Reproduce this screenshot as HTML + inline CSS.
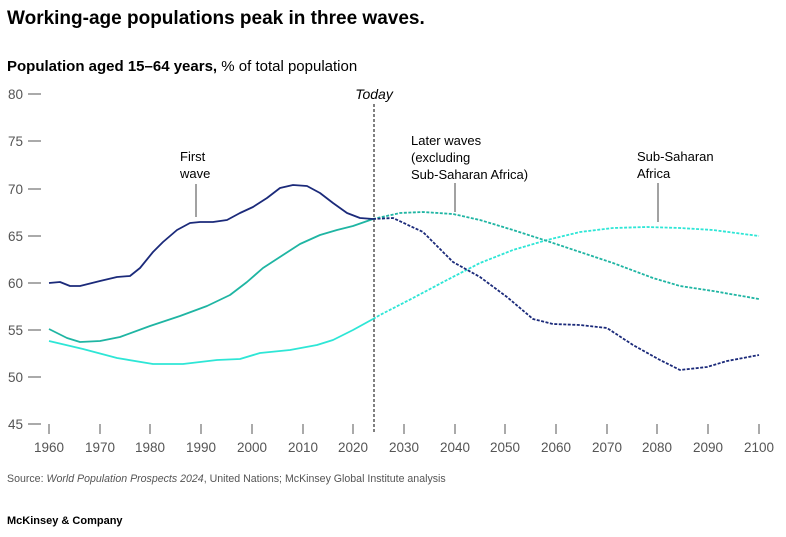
<!DOCTYPE html>
<html><head><style>
body{margin:0;background:#fff;width:786px;height:532px;overflow:hidden;font-family:"Liberation Sans",Arial,sans-serif}
</style></head><body>
<svg width="786" height="532" xmlns="http://www.w3.org/2000/svg" font-family="Liberation Sans, Arial, sans-serif">
<text x="7" y="24" font-size="19" font-weight="bold" fill="#000">Working-age populations peak in three waves.</text>
<text x="7" y="71" font-size="15" fill="#000"><tspan font-weight="bold">Population aged 15–64 years,</tspan> % of total population</text>
<g font-size="13.5" fill="#555">
<text x="8" y="99">80</text><text x="8" y="146">75</text><text x="8" y="194">70</text><text x="8" y="241">65</text>
<text x="8" y="288">60</text><text x="8" y="335">55</text><text x="8" y="382">50</text><text x="8" y="429">45</text>
</g>
<g stroke="#555" stroke-width="1">
<line x1="28" y1="94" x2="41" y2="94"/><line x1="28" y1="141" x2="41" y2="141"/><line x1="28" y1="189" x2="41" y2="189"/>
<line x1="28" y1="236" x2="41" y2="236"/><line x1="28" y1="283" x2="41" y2="283"/><line x1="28" y1="330" x2="41" y2="330"/>
<line x1="28" y1="377" x2="41" y2="377"/><line x1="28" y1="424" x2="41" y2="424"/>
</g>
<g stroke="#555" stroke-width="1">
<line x1="49" y1="424" x2="49" y2="434"/><line x1="100" y1="424" x2="100" y2="434"/><line x1="150" y1="424" x2="150" y2="434"/>
<line x1="201" y1="424" x2="201" y2="434"/><line x1="252" y1="424" x2="252" y2="434"/><line x1="303" y1="424" x2="303" y2="434"/>
<line x1="353" y1="424" x2="353" y2="434"/><line x1="404" y1="424" x2="404" y2="434"/><line x1="455" y1="424" x2="455" y2="434"/>
<line x1="505" y1="424" x2="505" y2="434"/><line x1="556" y1="424" x2="556" y2="434"/><line x1="607" y1="424" x2="607" y2="434"/>
<line x1="657" y1="424" x2="657" y2="434"/><line x1="708" y1="424" x2="708" y2="434"/><line x1="759" y1="424" x2="759" y2="434"/>
</g>
<g font-size="13.5" fill="#555" text-anchor="middle">
<text x="49" y="452">1960</text><text x="100" y="452">1970</text><text x="150" y="452">1980</text><text x="201" y="452">1990</text>
<text x="252" y="452">2000</text><text x="303" y="452">2010</text><text x="353" y="452">2020</text><text x="404" y="452">2030</text>
<text x="455" y="452">2040</text><text x="505" y="452">2050</text><text x="556" y="452">2060</text><text x="607" y="452">2070</text>
<text x="657" y="452">2080</text><text x="708" y="452">2090</text><text x="759" y="452">2100</text>
</g>
<line x1="374" y1="104" x2="374" y2="433" stroke="#000" stroke-width="1" stroke-dasharray="3,2"/>
<text x="374" y="99" font-size="14" font-style="italic" text-anchor="middle" fill="#000">Today</text>
<g fill="none" stroke-width="1.8" stroke-linejoin="round">
<polyline stroke="#2ee6d6" points="49,341 83,349 117,358 153,364 183,364 217,360 240,359 260,353 290,350 317,345 333,340 353,330 373,319"/>
<polyline stroke="#2ee6d6" stroke-dasharray="3,1.5" points="373,319 380,315 413,298 447,280 480,263 513,250 547,240 580,232 613,228 647,227 680,228 713,230 759,236"/>
<polyline stroke="#1fb5a3" points="49,329 67,338 80,342 100,341 120,337 150,326 180,316 207,306 230,295 247,282 263,268 283,255 300,244 320,235 337,230 353,226 373,219"/>
<polyline stroke="#1fb5a3" stroke-dasharray="3,1.5" points="373,219 400,213 423,212 453,214 480,220 513,230 547,241 580,252 613,263 653,278 680,286 713,291 759,299"/>
<polyline stroke="#1b2a7a" points="49,283 60,282 70,286 80,286 100,281 117,277 130,276 140,268 153,252 163,242 177,230 190,223 200,222 213,222 227,220 240,213 253,207 267,198 280,188 293,185 307,186 320,193 333,203 347,213 360,218 373,219"/>
<polyline stroke="#1b2a7a" stroke-dasharray="3,1.5" points="373,219 393,218 423,232 453,262 480,277 507,297 533,319 553,324 580,325 607,328 633,345 660,360 680,370 707,367 727,361 759,355"/>
</g>
<g stroke="#444" stroke-width="1">
<line x1="196" y1="184" x2="196" y2="217"/><line x1="455" y1="183" x2="455" y2="212"/><line x1="658" y1="183" x2="658" y2="222"/>
</g>
<g font-size="13" fill="#000">
<text x="180" y="161">First</text><text x="180" y="178">wave</text>
<text x="411" y="145">Later waves</text><text x="411" y="162">(excluding</text><text x="411" y="179">Sub-Saharan Africa)</text>
<text x="637" y="161">Sub-Saharan</text><text x="637" y="178">Africa</text>
</g>
<text x="7" y="482" font-size="10.6" fill="#555">Source: <tspan font-style="italic">World Population Prospects 2024</tspan>, United Nations; McKinsey Global Institute analysis</text>
<text x="7" y="524" font-size="11" font-weight="bold" fill="#000">McKinsey &amp; Company</text>
</svg>
</body></html>
